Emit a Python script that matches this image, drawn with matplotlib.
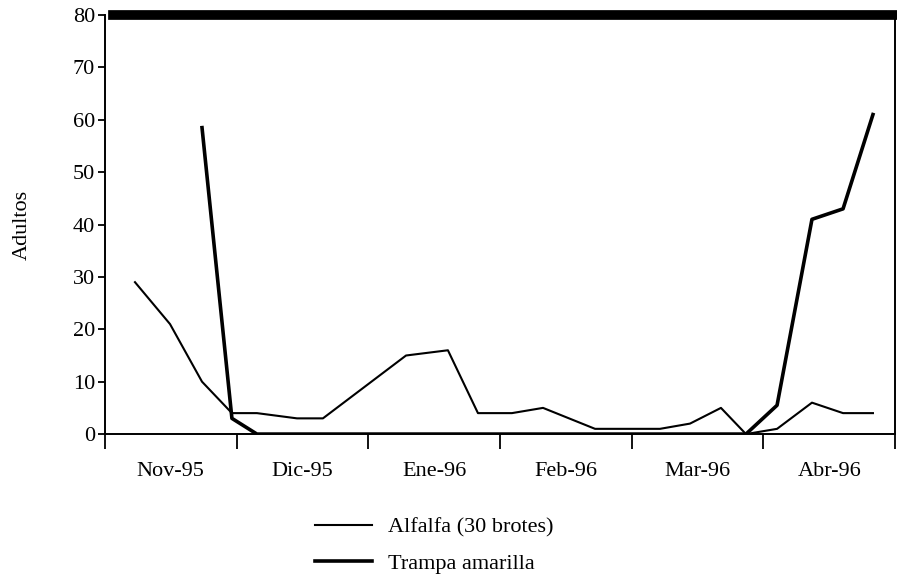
import matplotlib
matplotlib.use("Agg")
import matplotlib.pyplot as plt

plt.rcParams['font.family'] = ['Liberation Serif', 'DejaVu Serif']

# posiciones de muestreo (en meses desde el 1 de noviembre)
x_alfalfa = [0.228, 0.494, 0.737, 0.964, 1.154, 1.458, 1.655, 2.286, 2.604, 2.832,
             3.090, 3.326, 3.721, 4.214, 4.442, 4.677, 4.867, 5.103, 5.368, 5.604, 5.831]
alfalfa = [29, 21, 10, 4, 4, 3, 3, 15, 16, 4,
           4, 5, 1, 1, 2, 5, 0, 1, 6, 4, 4]

x_trampa = [0.737, 0.964, 1.154, 1.458, 1.655, 2.286, 2.604, 2.832,
            3.090, 3.326, 3.721, 4.214, 4.442, 4.677, 4.867, 5.103, 5.368, 5.604, 5.831]
trampa = [58.5, 3, 0, 0, 0, 0, 0, 0,
          0, 0, 0, 0, 0, 0, 0, 5.5, 41, 43, 61]

meses = ["Nov-95", "Dic-95", "Ene-96", "Feb-96", "Mar-96", "Abr-96"]

fig = plt.figure(figsize=(8.97, 5.78), dpi=100)
ax = fig.add_axes([0.117, 0.249, 0.881, 0.725])

ax.plot(x_alfalfa, alfalfa, color="black", lw=1.5, label="Alfalfa (30 brotes)")
ax.plot(x_trampa, trampa, color="black", lw=2.6, label="Trampa amarilla")

ax.set_xlim(0, 6)
ax.set_ylim(0, 80)
ax.set_yticks(range(0, 81, 10))
ax.set_xticks(range(0, 7))
ax.set_xticklabels([])
ax.set_xticks([i + 0.5 for i in range(6)], minor=True)
ax.set_xticklabels(meses, minor=True)
ax.tick_params(axis="x", which="major", direction="out", length=11, width=1.3)
ax.tick_params(axis="x", which="minor", length=0, pad=20, labelsize=16)
ax.tick_params(axis="y", direction="out", length=5, width=1.3, labelsize=16, pad=2)

# borde superior grueso
ax.spines["top"].set_linewidth(7)
ax.spines["top"].set_bounds(0.06, 6)
for s in ["left", "bottom", "right"]:
    ax.spines[s].set_linewidth(1.4)

ax.set_ylabel("Adultos", fontsize=16, labelpad=30)

ax.legend(loc="upper left", bbox_to_anchor=(0.24, -0.15), frameon=False,
          fontsize=16, handlelength=2.6, handletextpad=0.7, labelspacing=0.7)

fig.savefig("out.png", dpi=100)
